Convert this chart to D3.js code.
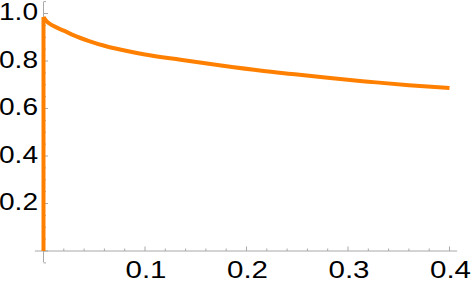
<!DOCTYPE html>
<html>
<head>
<meta charset="utf-8">
<script src="https://cdn.jsdelivr.net/npm/d3@7"></script>
<style>
  body { margin: 0; background: #fff; }
  .tick-label { font-family: "Liberation Sans", Arial, sans-serif; font-size: 23px; fill: #000; }
</style>
</head>
<body>
<script>
//curve values
var xs = [0, 0.0025, 0.005, 0.01, 0.02, 0.03, 0.045, 0.06, 0.08, 0.1, 0.135, 0.175, 0.215, 0.25, 0.28, 0.32, 0.36, 0.4];
var ys = [0.985, 0.97, 0.96, 0.947, 0.928, 0.908, 0.884, 0.864, 0.844, 0.827, 0.805, 0.781, 0.759, 0.743, 0.729, 0.713, 0.698, 0.686];

//tick labels
var xTickLabels = [0.1, 0.2, 0.3, 0.4];
var yTickLabels = [0.2, 0.4, 0.6, 0.8, 1.0];

var width = 471,
    height = 290;

var svg = d3.select("body")
    .append("svg")
    .attr("width", width)
    .attr("height", height);

//scales: x 0 -> 43.5px, 0.4 -> 449.5px ; y 0 -> 251px, 1 -> 13.5px
var x = d3.scaleLinear().domain([0, 0.4]).range([43.5, 449.5]);
var y = d3.scaleLinear().domain([0, 1]).range([251, 13.5]);

var axisColor = "#a8a8a8";

//x axis line
svg.append("line")
    .attr("x1", x(-0.0085)).attr("x2", x(0.4075))
    .attr("y1", y(0)).attr("y2", y(0))
    .attr("stroke", axisColor).attr("stroke-width", 1);

//y axis line
svg.append("line")
    .attr("x1", x(0)).attr("x2", x(0))
    .attr("y1", y(1.048)).attr("y2", y(-0.047))
    .attr("stroke", axisColor).attr("stroke-width", 1);

//x ticks every 0.02, major every 0.1
var xTicks = d3.range(0, 21).map(function(i){ return i * 0.02; });
svg.selectAll(".xtick")
    .data(xTicks)
    .enter()
    .append("line")
    .attr("class", "xtick")
    .attr("x1", function(d){ return x(d); })
    .attr("x2", function(d){ return x(d); })
    .attr("y1", y(0))
    .attr("y2", function(d, i){ return y(0) - (i % 5 === 0 ? 4.5 : 2.5); })
    .attr("stroke", axisColor).attr("stroke-width", 1);

//y ticks every 0.05, major every 0.2
var yTicks = d3.range(-1, 22).map(function(i){ return i * 0.05; });
svg.selectAll(".ytick")
    .data(yTicks)
    .enter()
    .append("line")
    .attr("class", "ytick")
    .attr("y1", function(d){ return y(d); })
    .attr("y2", function(d){ return y(d); })
    .attr("x1", x(0))
    .attr("x2", function(d){ return x(0) + (Math.abs(d * 5 - Math.round(d * 5)) < 1e-6 ? 4.5 : 2.5); })
    .attr("stroke", axisColor).attr("stroke-width", 1);

//x tick labels (glyphs stretched a little to match the wider original face)
svg.selectAll(".xlab")
    .data(xTickLabels)
    .enter()
    .append("text")
    .attr("class", "tick-label")
    .attr("x", function(d){ return x(d) + 1; })
    .attr("y", 278)
    .attr("text-anchor", "middle")
    .attr("textLength", 41)
    .attr("lengthAdjust", "spacingAndGlyphs")
    .text(function(d){ return d3.format(".1f")(d); });

//y tick labels
svg.selectAll(".ylab")
    .data(yTickLabels)
    .enter()
    .append("text")
    .attr("class", "tick-label")
    .attr("x", 38)
    .attr("y", function(d){ return y(d) + 6.8; })
    .attr("text-anchor", "end")
    .attr("textLength", 39)
    .attr("lengthAdjust", "spacingAndGlyphs")
    .text(function(d){ return d3.format(".1f")(d); });

//the curve: vertical rise at x = 0, then the smooth decay
var pts = xs.map(function(d, i){ return [d, ys[i]]; });
var line = d3.line()
    .x(function(d){ return x(d[0]); })
    .y(function(d){ return y(d[1]); })
    .curve(d3.curveMonotoneX);

svg.append("line")
    .attr("x1", x(0)).attr("x2", x(0))
    .attr("y1", y(0)).attr("y2", y(ys[0]))
    .attr("stroke", "#ff8000")
    .attr("stroke-width", 4);

svg.append("path")
    .datum(pts)
    .attr("d", line)
    .attr("fill", "none")
    .attr("stroke", "#ff8000")
    .attr("stroke-width", 4)
    .attr("stroke-linejoin", "round");
</script>
</body>
</html>
